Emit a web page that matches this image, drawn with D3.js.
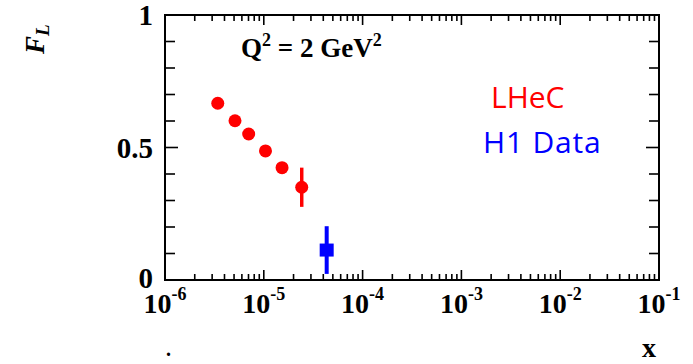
<!DOCTYPE html>
<html lang="en">
<head>
    <meta charset="UTF-8">
    <title>F_L at Q2 = 2 GeV2</title>
    <script src="https://d3js.org/d3.v7.min.js"></script>
    <style>
        body { margin: 0; background: #fff; }
        .serif { font-family: "Liberation Serif", "Times New Roman", serif; font-weight: bold; }
        .sans { font-family: "Open Sans", "Noto Sans", sans-serif; }
    </style>
</head>
<body>
    <div id="chart"></div>
    <script>
        // LHeC pseudo-data
        const lhecX = [3.42e-6, 5.11e-6, 7.03e-6, 1.04e-5, 1.53e-5, 2.42e-5];
        const lhecFL = [0.667, 0.601, 0.551, 0.487, 0.424, 0.350];
        const lhecErr = [0.005, 0.005, 0.006, 0.008, 0.012, 0.074];

        // H1 data point
        const h1X = [4.33e-5];
        const h1FL = [0.113];
        const h1Err = [0.09];

        // axis ticks
        const xDecades = [-6, -5, -4, -3, -2, -1];
        const yLabels = [0, 0.5, 1];

        const width = 693, height = 364;
        const margin = { left: 165, right: 34, top: 15, bottom: 84 };

        const svg = d3.select("#chart").append("svg")
            .attr("width", width)
            .attr("height", height);

        const x = d3.scaleLog()
            .domain([1e-6, 1e-1])
            .range([margin.left, width - margin.right]);
        const y = d3.scaleLinear()
            .domain([0, 1])
            .range([height - margin.bottom, margin.top]);

        const x0 = x.range()[0], x1 = x.range()[1];
        const y0 = y.range()[0], y1 = y.range()[1];

        // minor / major x ticks (bottom and top, pointing inward)
        const xTicks = [];
        xDecades.slice(0, -1).forEach(e => {
            for (let m = 1; m <= 9; m++) xTicks.push({ v: m * Math.pow(10, e), major: m === 1 });
        });
        xTicks.push({ v: 1e-1, major: true });

        const axisG = svg.append("g")
            .attr("stroke", "#000")
            .attr("stroke-width", 1.6);

        xTicks.forEach(t => {
            const len = t.major ? 10 : 6;
            axisG.append("line")
                .attr("x1", x(t.v)).attr("x2", x(t.v))
                .attr("y1", y0).attr("y2", y0 - len);
            axisG.append("line")
                .attr("x1", x(t.v)).attr("x2", x(t.v))
                .attr("y1", y1).attr("y2", y1 + len);
        });

        // y ticks every 0.1, majors at 0.5 steps
        d3.range(0, 11).forEach(i => {
            const v = i / 10;
            const len = i % 5 === 0 ? 13 : 10;
            axisG.append("line")
                .attr("x1", x0).attr("x2", x0 + len)
                .attr("y1", y(v)).attr("y2", y(v));
            axisG.append("line")
                .attr("x1", x1).attr("x2", x1 - len)
                .attr("y1", y(v)).attr("y2", y(v));
        });

        // frame
        svg.append("rect")
            .attr("x", x0).attr("y", y1)
            .attr("width", x1 - x0).attr("height", y0 - y1)
            .attr("fill", "none")
            .attr("stroke", "#000")
            .attr("stroke-width", 2);

        // y tick labels
        svg.append("g").selectAll("text")
            .data(yLabels)
            .join("text")
            .attr("class", "serif")
            .attr("x", x0 - 12)
            .attr("y", d => y(d) + (d === 0 ? 8 : 10))
            .attr("text-anchor", "end")
            .attr("font-size", 29)
            .text(d => d);

        // x tick labels 10^n
        const xl = svg.append("g").selectAll("text")
            .data(xDecades)
            .join("text")
            .attr("class", "serif")
            .attr("x", d => x(Math.pow(10, d)))
            .attr("y", y0 + 33)
            .attr("text-anchor", "middle")
            .attr("font-size", 28);
        xl.append("tspan").text("10");
        xl.append("tspan")
            .attr("dy", -13)
            .attr("font-size", 18)
            .text(d => d);

        // axis titles
        svg.append("text")
            .attr("class", "serif")
            .attr("x", x1 - 3)
            .attr("y", 357)
            .attr("text-anchor", "end")
            .attr("font-size", 28)
            .text("x");

        const fl = svg.append("text")
            .attr("class", "serif")
            .attr("font-style", "italic")
            .attr("font-size", 27)
            .attr("transform", "translate(44,54) rotate(-90)");
        fl.append("tspan").text("F");
        fl.append("tspan").attr("dy", 5).attr("font-size", 19).text("L");

        svg.append("text")
            .attr("class", "serif")
            .attr("x", 166)
            .attr("y", 356)
            .attr("font-size", 20)
            .text(".");

        // Q^2 label
        const q = svg.append("text")
            .attr("class", "serif")
            .attr("x", 241)
            .attr("y", 57)
            .attr("font-size", 27);
        q.append("tspan").text("Q");
        q.append("tspan").attr("dy", -11).attr("font-size", 18).text("2");
        q.append("tspan").attr("dy", 11).text(" = 2 GeV");
        q.append("tspan").attr("dy", -11).attr("font-size", 18).text("2");

        // legend text
        svg.append("text")
            .attr("class", "sans")
            .attr("x", 491)
            .attr("y", 108)
            .attr("font-size", 30)
            .attr("fill", "#ff0000")
            .text("LHeC");
        svg.append("text")
            .attr("class", "sans")
            .attr("x", 483)
            .attr("y", 153)
            .attr("font-size", 30)
            .attr("letter-spacing", 0.8)
            .attr("fill", "#0000ff")
            .text("H1 Data");

        // LHeC points
        const lhec = lhecX.map((v, i) => ({ x: v, y: lhecFL[i], e: lhecErr[i] }));
        const lg = svg.append("g");
        lg.selectAll("line")
            .data(lhec)
            .join("line")
            .attr("x1", d => x(d.x)).attr("x2", d => x(d.x))
            .attr("y1", d => y(d.y - d.e)).attr("y2", d => y(d.y + d.e))
            .attr("stroke", "#ff0000")
            .attr("stroke-width", 3.5);
        lg.selectAll("circle")
            .data(lhec)
            .join("circle")
            .attr("cx", d => x(d.x))
            .attr("cy", d => y(d.y))
            .attr("r", 6.5)
            .attr("fill", "#ff0000");

        // H1 point
        const h1 = h1X.map((v, i) => ({ x: v, y: h1FL[i], e: h1Err[i] }));
        const hg = svg.append("g");
        hg.selectAll("line")
            .data(h1)
            .join("line")
            .attr("x1", d => x(d.x)).attr("x2", d => x(d.x))
            .attr("y1", d => y(d.y - d.e)).attr("y2", d => y(d.y + d.e))
            .attr("stroke", "#0000ff")
            .attr("stroke-width", 4);
        hg.selectAll("rect")
            .data(h1)
            .join("rect")
            .attr("x", d => x(d.x) - 7)
            .attr("y", d => y(d.y) - 6.5)
            .attr("width", 14)
            .attr("height", 13)
            .attr("fill", "#0000ff");
    </script>
</body>
</html>
